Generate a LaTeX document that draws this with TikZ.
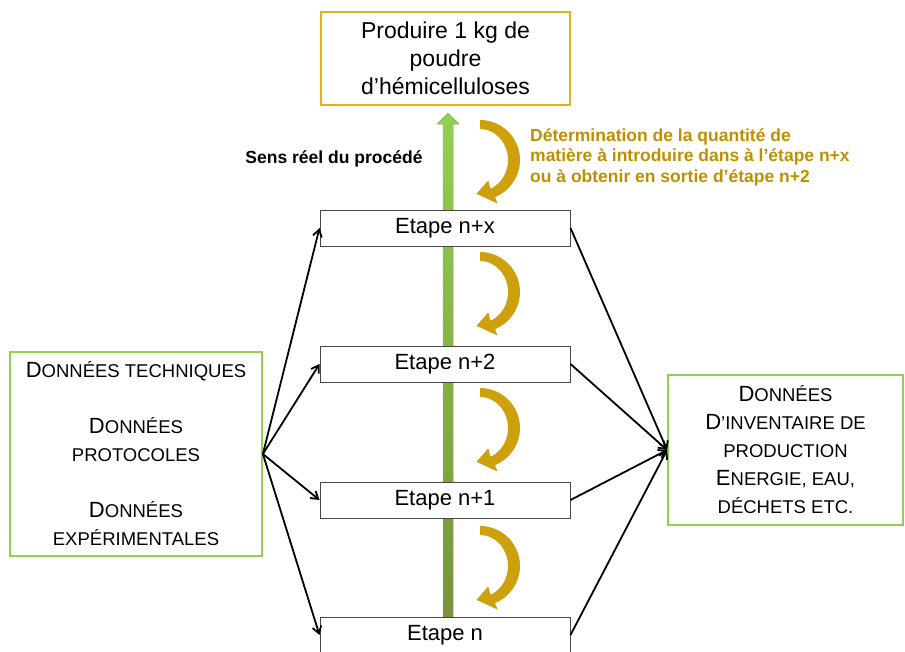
\documentclass[tikz,border=0pt]{standalone}
\usepackage{fontspec}
\setmainfont{Liberation Sans}
\usetikzlibrary{arrows.meta,positioning}
\definecolor{gold}{RGB}{206,160,12}
\definecolor{goldtext}{RGB}{190,144,0}
\definecolor{goldline}{RGB}{226,178,30}
\definecolor{lightgreen}{RGB}{146,208,80}
\definecolor{darkgreen}{RGB}{119,147,60}
\definecolor{boxgrey}{RGB}{70,70,70}
\newcommand\psc[1]{{\fontsize{18.5}{28}\selectfont #1}}
\tikzset{
  etape/.style={draw=boxgrey,line width=1pt,fill=white,minimum width=250pt,
    minimum height=36pt,inner sep=0pt,font=\fontsize{22}{26}\selectfont},
  cadre/.style={draw=lightgreen,line width=1.8pt,fill=white,align=center,
    inner sep=0pt,font=\fontsize{22}{28}\selectfont},
  flux/.style={->,line width=1.8pt},
  crescent/.pic={
    \fill[gold] (-90:40) arc[start angle=-90,end angle=68,radius=40]
      -- (68:47) -- (96:34) -- (68:22)
      -- ({28*cos(68)},{31*sin(68)})
      arc[start angle=68,end angle=-90,x radius=28,y radius=31] -- cycle;
  }
}
\begin{document}
\begin{tikzpicture}[x=1pt,y=-1pt,>={Straight Barb[length=7pt,width=9pt]}]
\useasboundingbox (0,0) rectangle (905,651);
% sens du procede
\fill[top color=lightgreen,bottom color=darkgreen,draw=darkgreen!70,line width=0.4pt]
  (443,620) -- (443,124) -- (437,124) -- (448,113) -- (459,124) -- (453,124) -- (453,620) -- cycle;
\node[draw=goldline,line width=1.8pt,fill=white,minimum width=249pt,minimum height=93pt,
  align=center,inner sep=0pt,font=\fontsize{23}{28}\selectfont] (but) at (445.5,58.5)
  {Produire 1 kg de\\poudre\\d’hémicelluloses};
\node[font=\bfseries\fontsize{17.5}{20}\selectfont] (sens) at (334,159) {Sens réel du procédé};
\node[anchor=west,align=left,text=goldtext,inner sep=0pt,
  font=\bfseries\fontsize{17.5}{20.5}\selectfont] (calc) at (530,157)
  {Détermination de la quantité de\\matière à introduire dans à l’étape n+x\\ou à obtenir en sortie d’étape n+2};
% etapes
\node[etape] (Enx) at (445,228) {Etape n+x};
\node[etape] (En2) at (445,364) {Etape n+2};
\node[etape] (En1) at (445,500) {Etape n+1};
\node[etape] (En) at (445,635) {Etape n};
% retour des quantites
\pic at (480,160) {crescent};
\pic at (480,292) {crescent};
\pic at (480,428) {crescent};
\pic at (480,566) {crescent};
% donnees
\node[cadre,minimum width=252pt,minimum height=204pt] (entree) at (136,454)
  {D\psc{ONNÉES TECHNIQUES}\\[28pt]D\psc{ONNÉES}\\\psc{PROTOCOLES}\\[28pt]D\psc{ONNÉES}\\\psc{EXPÉRIMENTALES}};
\node[cadre,minimum width=235pt,minimum height=150pt] (sortie) at (785.5,450)
  {D\psc{ONNÉES}\\D\psc{’INVENTAIRE DE}\\\psc{PRODUCTION}\\E\psc{NERGIE, EAU,}\\\psc{DÉCHETS ETC.}};
\draw[flux] (entree.east) -- (Enx.west);
\draw[flux] (entree.east) -- (En2.west);
\draw[flux] (entree.east) -- (En1.west);
\draw[flux] (entree.east) -- (En.west);
\draw[flux] (Enx.east) -- (sortie.west);
\draw[flux] (En2.east) -- (sortie.west);
\draw[flux] (En1.east) -- (sortie.west);
\draw[flux] (En.east) -- (sortie.west);
\end{tikzpicture}
\end{document}
